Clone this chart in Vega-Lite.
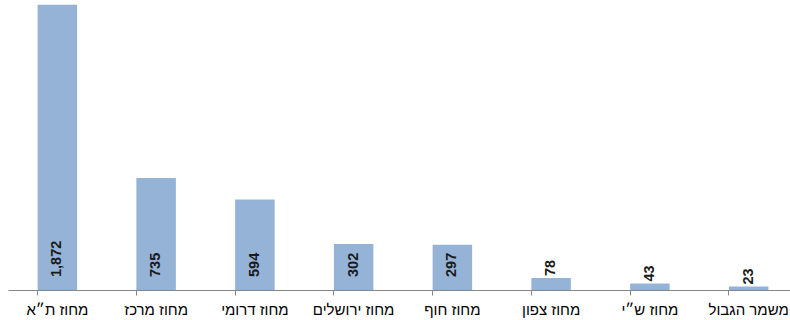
{
  "$schema": "https://vega.github.io/schema/vega-lite/v6.json",
  "width": 782,
  "height": 290,
  "autosize": {"type": "none"},
  "padding": {"left": 8, "top": 0, "right": 0, "bottom": 30},
  "background": "white",
  "config": {"view": {"stroke": null}},
  "data": {
    "values": [
      {"district": "מחוז ת״א", "value": 1872, "label": "1,872"},
      {"district": "מחוז מרכז", "value": 735, "label": "735"},
      {"district": "מחוז דרומי", "value": 594, "label": "594"},
      {"district": "מחוז ירושלים", "value": 302, "label": "302"},
      {"district": "מחוז חוף", "value": 297, "label": "297"},
      {"district": "מחוז צפון", "value": 78, "label": "78"},
      {"district": "מחוז ש״י", "value": 43, "label": "43"},
      {"district": "משמר הגבול", "value": 23, "label": "23"}
    ]
  },
  "encoding": {
    "x": {
      "field": "district",
      "type": "nominal",
      "sort": null,
      "scale": {"range": [0, 790], "paddingInner": 0.6, "paddingOuter": 0.3},
      "axis": {
        "title": null,
        "labelAngle": 0,
        "labelFont": "Liberation Sans Narrow, Liberation Sans, DejaVu Sans Condensed",
        "labelFontSize": 15,
        "labelColor": "#000000",
        "labelPadding": 7,
        "domainColor": "#868686",
        "tickColor": "#868686",
        "tickSize": 5,
        "bandPosition": 0,
        "ticks": true,
        "grid": false
      }
    }
  },
  "layer": [
    {
      "mark": {"type": "bar", "color": "#95B3D7"},
      "encoding": {
        "y": {
          "field": "value",
          "type": "quantitative",
          "scale": {"domain": [0, 1903], "nice": false},
          "axis": null
        }
      }
    },
    {
      "transform": [{"filter": "datum.value >= 100"}],
      "mark": {
        "type": "text",
        "angle": 270,
        "align": "left",
        "baseline": "middle",
        "dx": 13,
        "font": "Liberation Sans, DejaVu Sans",
        "fontWeight": "bold",
        "fontSize": 14.5,
        "color": "#1a1a1a"
      },
      "encoding": {
        "y": {"datum": 0, "type": "quantitative"},
        "text": {"field": "label"}
      }
    },
    {
      "transform": [{"filter": "datum.value < 100"}],
      "mark": {
        "type": "text",
        "angle": 270,
        "align": "left",
        "baseline": "middle",
        "dx": 2,
        "font": "Liberation Sans, DejaVu Sans",
        "fontWeight": "bold",
        "fontSize": 14.5,
        "color": "#1a1a1a"
      },
      "encoding": {
        "y": {"field": "value", "type": "quantitative"},
        "text": {"field": "label"}
      }
    }
  ]
}
